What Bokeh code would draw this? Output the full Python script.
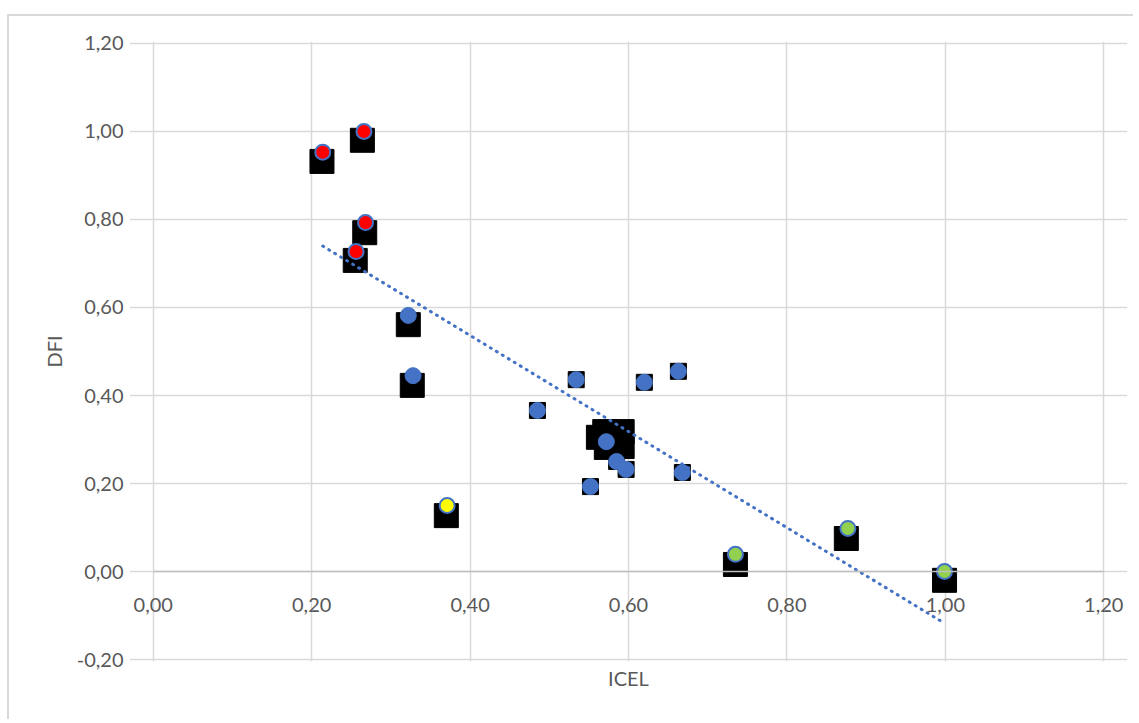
import numpy as np
from bokeh.plotting import figure
from bokeh.models import CustomJSTickFormatter, FixedTicker, Range1d, LinearAxis
from bokeh.embed import file_html
from bokeh.resources import INLINE

# ---------------- data ----------------
red_x = [0.214, 0.266, 0.268, 0.256]
red_y = [0.953, 1.000, 0.793, 0.727]
blue_x = [0.322, 0.328, 0.485, 0.534, 0.620, 0.663, 0.572, 0.585, 0.597, 0.552, 0.668]
blue_y = [0.582, 0.445, 0.366, 0.436, 0.430, 0.455, 0.295, 0.250, 0.232, 0.193, 0.225]
yellow_x = [0.371]
yellow_y = [0.150]
green_x = [0.735, 0.877, 0.999]
green_y = [0.039, 0.098, 0.000]

black_big_x = [0.213, 0.264, 0.267, 0.255, 0.322, 0.327, 0.370, 0.735, 0.875, 0.999,
               0.562, 0.570, 0.592, 0.572, 0.592]
black_big_y = [0.932, 0.980, 0.770, 0.707, 0.561, 0.423, 0.127, 0.016, 0.075, -0.020,
               0.305, 0.318, 0.318, 0.282, 0.284]
black_small_x = [0.485, 0.534, 0.620, 0.663, 0.585, 0.597, 0.552, 0.668]
black_small_y = [0.366, 0.436, 0.430, 0.455, 0.250, 0.232, 0.193, 0.225]

x_ticks = [0.0, 0.2, 0.4, 0.6, 0.8, 1.0, 1.2]
y_ticks = [-0.2, 0.0, 0.2, 0.4, 0.6, 0.8, 1.0, 1.2]

x_title = "ICEL"
y_title = "DFI"

FONT = "Lato"
FS = "20px"
TXT = "#595959"
GRID = "#d9d9d9"
BLUE = "#4472C4"

x_min, x_max = x_ticks[0], x_ticks[-1]
y_min, y_max = y_ticks[0], y_ticks[-1]
x_pad, y_pad = 0.03, 0.0045

p = figure(frame_width=998, frame_height=620,
           min_border_left=120, min_border_top=25, min_border_right=6, min_border_bottom=58,
           x_range=Range1d(x_min - x_pad, x_max + x_pad),
           y_range=Range1d(y_min - y_pad, y_max + y_pad),
           output_backend="svg", toolbar_location=None, tools="",
           styles={"margin-left": "7px", "margin-top": "14px",
                   "border-left": "2px solid #d9d9d9", "border-top": "2px solid #d9d9d9"})

p.background_fill_color = "white"
p.border_fill_color = "white"
p.outline_line_color = None

# grid limited to the plotted area
p.xgrid.ticker = FixedTicker(ticks=x_ticks)
p.ygrid.ticker = FixedTicker(ticks=y_ticks)
p.xgrid.bounds = (y_min, y_max)
p.ygrid.bounds = (x_min, x_max)
p.grid.grid_line_color = GRID
p.grid.grid_line_width = 1.5

fmt = CustomJSTickFormatter(code="return tick.toFixed(2).replace('.', ',');")

# y axis
p.yaxis.ticker = FixedTicker(ticks=y_ticks)
p.yaxis.formatter = fmt
p.yaxis.axis_line_color = None
p.yaxis.major_tick_line_color = None
p.yaxis.minor_tick_line_color = None
p.yaxis.major_label_text_font = FONT
p.yaxis.major_label_text_font_size = FS
p.yaxis.major_label_text_color = TXT
p.yaxis.major_label_standoff = 0
p.yaxis.axis_label = y_title
p.yaxis.axis_label_text_font = FONT
p.yaxis.axis_label_text_font_size = FS
p.yaxis.axis_label_text_font_style = "normal"
p.yaxis.axis_label_text_color = TXT
p.yaxis.axis_label_standoff = 8

# x axis crossing at y = 0
p.xaxis.fixed_location = 0
p.xaxis.bounds = (x_min, x_max)
p.xaxis.ticker = FixedTicker(ticks=x_ticks)
p.xaxis.formatter = fmt
p.xaxis.axis_line_color = "#bfbfbf"
p.xaxis.axis_line_width = 1.5
p.xaxis.major_tick_line_color = None
p.xaxis.minor_tick_line_color = None
p.xaxis.major_label_text_font = FONT
p.xaxis.major_label_text_font_size = FS
p.xaxis.major_label_text_color = TXT
p.xaxis.major_label_standoff = 20

# x title axis below the frame
title_axis = LinearAxis(ticker=FixedTicker(ticks=[]), axis_label=x_title,
                        axis_line_color=None, major_tick_line_color=None,
                        minor_tick_line_color=None,
                        axis_label_text_font=FONT, axis_label_text_font_size=FS,
                        axis_label_text_font_style="normal", axis_label_text_color=TXT,
                        axis_label_standoff=4)
p.add_layout(title_axis, "below")

# black squares
p.scatter(black_big_x, black_big_y, marker="square", size=24, fill_color="black", line_color="black")
p.scatter(black_small_x, black_small_y, marker="square", size=16, fill_color="black", line_color="black")

# circles
p.scatter(blue_x, blue_y, marker="circle", size=16, fill_color=BLUE, line_color=BLUE, line_width=1)
p.scatter(red_x, red_y, marker="circle", size=15, fill_color="#FF0000", line_color=BLUE, line_width=2)
p.scatter(yellow_x, yellow_y, marker="circle", size=15, fill_color="#FFFF00", line_color=BLUE, line_width=2)
p.scatter(green_x, green_y, marker="circle", size=15, fill_color="#92D050", line_color=BLUE, line_width=2)

# linear trendline (least squares over plotted points)
all_x = np.array(red_x + blue_x + yellow_x + green_x)
all_y = np.array(red_y + blue_y + yellow_y + green_y)
slope, intercept = np.polyfit(all_x, all_y, 1)
tx = np.array([all_x.min(), all_x.max()])
p.line(tx, slope * tx + intercept, line_color=BLUE, line_width=3, line_dash="1 6",
       line_cap="round")

open("out.html", "w").write(file_html(p, INLINE))
